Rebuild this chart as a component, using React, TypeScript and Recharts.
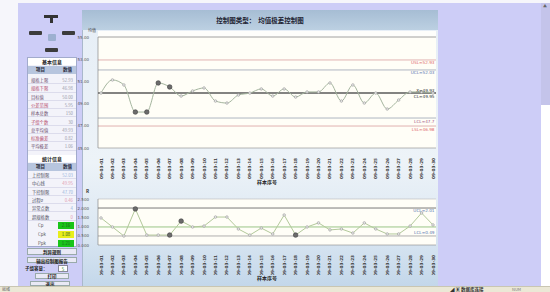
import React from "react";
import { LineChart, Line, XAxis, YAxis, ReferenceLine, CartesianGrid } from "recharts";

const sampleLabels = [
  "09-03-01", "09-03-02", "09-03-03", "09-03-04", "09-03-05", "09-03-06",
  "09-03-07", "09-03-08", "09-03-09", "09-03-10", "09-03-11", "09-03-12",
  "09-03-13", "09-03-14", "09-03-15", "09-03-16", "09-03-17", "09-03-18",
  "09-03-19", "09-03-20", "09-03-21", "09-03-22", "09-03-23", "09-03-24",
  "09-03-25", "09-03-26", "09-03-27", "09-03-28", "09-03-29", "09-03-30",
];

const xbarValues = [
  49.95, 51.13, 50.68, 48.24, 48.24, 50.86, 50.5, 49.68, 50.14, 50.41,
  49.23, 49.05, 49.77, 49.95, 50.32, 49.68, 50.32, 49.59, 50.05, 50.05,
  50.86, 49.23, 50.68, 49.05, 49.95, 48.51, 49.32, 50.05, 50.05, 49.95,
];
const rangeValues = [
  1.47, 0.98, 0.49, 1.96, 0.54, 0.54, 0.54, 1.3, 0.98, 1.03,
  1.52, 1.52, 0.87, 0.54, 0.92, 0.6, 1.63, 0.54, 0.98, 1.2,
  0.82, 0.87, 0.65, 1.2, 0.87, 0.6, 0.6, 1.03, 1.74, 1.09,
];
const xbarAlarms = [3, 4, 5, 6];
const rangeAlarms = [3, 6, 7, 17];

const xbarTicks = [45, 47, 49, 51, 53, 55];
const rangeTicks = [0, 0.5, 1, 1.5, 2, 2.5];

const xbarUSL = 52.93;
const xbarUCL = 52.03;
const xbarCL = 49.95;
const xbarMean = 49.93;
const xbarLCL = 47.7;
const xbarLSL = 46.98;

const rangeUCL = 2.01;
const rangeCL = 0.98;
const rangeLCL = 0.49;

const chartTitle = "控制图类型：  均值极差控制图";
const xbarUnit = "均值";
const rangeUnit = "R";
const xAxisTitle = "样本序号";

const basicItems = ["规格上限", "规格下限", "目标值", "公差范围", "样本总数", "子组个数", "总平均值", "标准偏差", "平均极差"];
const basicValues = ["52.93", "46.98", "50.00", "5.95", "150", "30", "49.93", "0.82", "1.06"];
const statItems = ["上控制限", "中心线", "下控制限", "过程σ", "异常点数", "超规格数"];
const statValues = ["52.03", "49.95", "47.70", "0.46", "4", "0"];
const capItems = ["Cp", "Cpk", "Ppk"];
const capValues = ["2.16", "1.08", "1.21"];
const capColors = ["#19c419", "#e8ee1c", "#19c419"];
const panelButtons = ["判异规则", "输出控制图报告"];

const makeDot = (alarms: number[]) => (props: any) => {
  const { cx, cy, index } = props;
  const alarm = alarms.includes(index);
  return (
    <circle
      key={`d${index}`}
      cx={cx}
      cy={cy}
      r={alarm ? 2.3 : 1.3}
      fill={alarm ? "#6b6b6b" : "#e6e6e6"}
      stroke={alarm ? "#3e3e3e" : "#9c9c9c"}
      strokeWidth={0.6}
    />
  );
};

const VTick = (props: any) => {
  const { x, y, payload } = props;
  return (
    <text
      x={x}
      y={y + 2}
      transform={`rotate(-90 ${x} ${y + 2})`}
      textAnchor="end"
      dy={1.5}
      fontSize={4.2}
      fontWeight="bold"
      fill="#3a3a3a"
      fontFamily="DejaVu Sans"
    >
      {payload.value}
    </text>
  );
};

const YTick = (props: any) => {
  const { x, y, payload, digits } = props;
  return (
    <text x={x - 1} y={y} dy={1.5} textAnchor="end" fontSize={4} fill="#555" fontFamily="DejaVu Sans">
      {Number(payload.value).toFixed(digits)}
    </text>
  );
};

const refLabel = (value: string, fill: string, position: string) => ({
  value,
  position,
  fill,
  fontSize: 4.2,
  offset: 1.5,
  fontFamily: "DejaVu Sans",
});

const xbarData = sampleLabels.map((s, i) => ({ sample: s, v: xbarValues[i] }));
const rangeData = sampleLabels.map((s, i) => ({ sample: s, v: rangeValues[i] }));

const abs = (l: number, t: number, w: number, h: number, extra: any = {}) => ({
  position: "absolute" as const,
  left: l,
  top: t,
  width: w,
  height: h,
  whiteSpace: "nowrap" as const,
  ...extra,
});

const LeftPanel = () => {
  const rowH = 8.3;
  return (
    <>
      {/* navigation pad */}
      <div style={abs(44, 15, 14, 2.5, { background: "#333" })} />
      <div style={abs(50, 17, 2.5, 6, { background: "#333" })} />
      <div style={abs(29, 31, 13, 4, { background: "#3c3c3c", borderRadius: 1 })} />
      <div style={abs(62, 31, 13, 4, { background: "#3c3c3c", borderRadius: 1 })} />
      <div style={abs(48, 34, 8, 7, { background: "#9db0d0", borderRadius: 1 })} />
      <div style={abs(45, 48, 13, 3.5, { background: "#3c3c3c", borderRadius: 1 })} />

      {/* info box */}
      <div style={abs(27, 57, 50, 190, { background: "#f3f3fa", border: "1px solid #a2abcc", boxSizing: "border-box" })} />
      <div style={abs(28, 58, 48, 7, { background: "#ffffff", fontSize: 5, fontWeight: "bold", textAlign: "center", lineHeight: "7px", color: "#222" })}>
        基本信息
      </div>
      <div style={abs(28, 66, 48, 7.5, { background: "#b7c5de", fontSize: 4.5, fontWeight: "bold", lineHeight: "7.5px", color: "#2a2a3a" })}>
        <span style={{ position: "absolute", left: 8 }}>项目</span>
        <span style={{ position: "absolute", left: 35 }}>数值</span>
      </div>
      {basicItems.map((it, i) => (
        <div key={it} style={abs(28, 76 + i * rowH, 48, rowH, { fontSize: 4.3, lineHeight: `${rowH}px`, borderBottom: "0.5px solid #dcdcec", boxSizing: "border-box" })}>
          <span style={{ position: "absolute", left: 3, color: i % 2 ? "#b34a6a" : "#6a4a6a" }}>{it}</span>
          <span style={{ position: "absolute", right: 3, color: "#9a9aaa" }}>{basicValues[i]}</span>
        </div>
      ))}
      <div style={abs(28, 155, 48, 7, { background: "#ffffff", fontSize: 5, fontWeight: "bold", textAlign: "center", lineHeight: "7px", color: "#222" })}>
        统计信息
      </div>
      <div style={abs(28, 163, 48, 7.5, { background: "#b7c5de", fontSize: 4.5, fontWeight: "bold", lineHeight: "7.5px", color: "#2a2a3a" })}>
        <span style={{ position: "absolute", left: 8 }}>项目</span>
        <span style={{ position: "absolute", left: 35 }}>数值</span>
      </div>
      {statItems.map((it, i) => (
        <div key={it} style={abs(28, 171 + i * rowH, 48, rowH, { fontSize: 4.3, lineHeight: `${rowH}px`, borderBottom: "0.5px solid #dcdcec", boxSizing: "border-box" })}>
          <span style={{ position: "absolute", left: 4, color: "#4a4a5a" }}>{it}</span>
          <span style={{ position: "absolute", right: 3, color: i % 2 ? "#e29ab0" : "#9ab4dc" }}>{statValues[i]}</span>
        </div>
      ))}
      {capItems.map((it, i) => (
        <div key={it} style={abs(28, 221 + i * 8.8, 48, 8.8, { fontSize: 4.3, lineHeight: "8.8px" })}>
          <span style={{ position: "absolute", left: 10, color: "#555" }}>{it}</span>
          <span style={{ position: "absolute", left: 30, top: 1, width: 16, height: 7, background: capColors[i], color: "#225522", textAlign: "center", lineHeight: "7px" }}>{capValues[i]}</span>
        </div>
      ))}

      {/* buttons */}
      {panelButtons.map((b, i) => (
        <div key={b} style={abs(27, 248 + i * 8.5, 50, 6.5, { background: "#e9e9f5", border: "0.5px solid #9aa", boxSizing: "border-box", fontSize: 4.5, fontWeight: "bold", textAlign: "center", lineHeight: "6px", color: "#222" })}>
          {b}
        </div>
      ))}
      <div style={abs(25, 265, 30, 7, { fontSize: 4.5, fontWeight: "bold", lineHeight: "7px", color: "#222" })}>子组容量：</div>
      <div style={abs(58, 265, 10, 7, { background: "#fff", border: "0.5px solid #889", boxSizing: "border-box", fontSize: 4.5, lineHeight: "6px", textAlign: "center", color: "#2a8a2a" })}>5</div>
      <div style={abs(35, 273, 34, 6, { background: "#e9e9f5", border: "0.5px solid #9aa", boxSizing: "border-box", fontSize: 4.5, fontWeight: "bold", textAlign: "center", lineHeight: "5.5px", color: "#222" })}>打印</div>
      <div style={abs(30, 280.5, 40, 5.5, { background: "#e9e9f5", border: "0.5px solid #9aa", boxSizing: "border-box", fontSize: 4.5, fontWeight: "bold", textAlign: "center", lineHeight: "5px", color: "#222" })}>退出</div>
    </>
  );
};

export default function App() {
  return (
    <div
      style={{
        position: "fixed",
        left: 0,
        top: 0,
        width: 550,
        height: 292,
        background: "#f6f6fb",
        overflow: "hidden",
        fontFamily: '"Noto Sans CJK SC", "Noto Sans", sans-serif',
      }}
    >
      {/* window background */}
      <div style={abs(18, 3, 532, 284, { background: "#cdcdf7" })} />
      {/* right scrollbar */}
      <div style={abs(541, 3, 9, 102, { background: "#c4c4ea" })} />
      <div style={abs(541, 105, 9, 182, { background: "#ffffff" })} />
      <div style={abs(543, 4, 5, 4, { fontSize: 4, color: "#666", lineHeight: "4px" })}>▲</div>

      <LeftPanel />

      {/* main chart panel */}
      <div
        style={abs(82, 10, 356, 277, {
          background: "linear-gradient(#e6eef6 0%, #edf3f8 55%, #dbe7f2 80%, #c3d7ea 100%)",
          borderLeft: "1px solid #a9b8cc",
          boxSizing: "border-box",
        })}
      />
      <div
        style={abs(82, 10, 356, 20, {
          background: "linear-gradient(#a6bdd4, #bcd0e2)",
          fontSize: 6.5,
          fontWeight: "bold",
          color: "#1e2433",
          lineHeight: "20px",
          textAlign: "center",
          boxSizing: "border-box",
          whiteSpace: "pre",
        })}
      >
        {chartTitle}
      </div>
      <div style={abs(98, 31, 338, 6, { background: "#fefefb" })} />
      <div style={abs(88, 27, 12, 6, { fontSize: 4, color: "#444", lineHeight: "6px" })}>{xbarUnit}</div>
      <div style={abs(86, 188, 8, 6, { fontSize: 4.5, color: "#333", lineHeight: "6px", fontWeight: "bold" })}>{rangeUnit}</div>
      <div style={abs(247, 178, 40, 7, { fontSize: 5, fontWeight: "bold", color: "#222", lineHeight: "7px", textAlign: "center" })}>{xAxisTitle}</div>
      <div style={abs(247, 274, 40, 7, { fontSize: 5, fontWeight: "bold", color: "#222", lineHeight: "7px", textAlign: "center" })}>{xAxisTitle}</div>

      {/* X-bar chart */}
      <div style={abs(76, 30, 362, 150)}>
        <LineChart width={362} height={150} data={xbarData} margin={{ top: 7, right: 2, bottom: 0, left: 0 }}>
          <CartesianGrid horizontal={false} vertical={false} fill="#fffef7" stroke="none" />
          <XAxis
            dataKey="sample"
            interval={0}
            height={32}
            tick={<VTick />}
            tickLine={false}
            axisLine={{ stroke: "#888", strokeWidth: 0.6 }}
            padding={{ left: 3, right: 3 }}
          />
          <YAxis
            domain={[45, 55]}
            ticks={xbarTicks}
            interval={0}
            width={22}
            tick={<YTick digits={2} />}
            tickLine={false}
            axisLine={{ stroke: "#777", strokeWidth: 0.6 }}
          />
          <ReferenceLine y={55} stroke="#8c8c8c" strokeWidth={0.8} />
          <ReferenceLine y={xbarUSL} stroke="#d9a0a0" strokeWidth={0.8} label={refLabel(`USL=${xbarUSL}`, "#e06a6a", "insideTopRight")} />
          <ReferenceLine y={xbarUCL} stroke="#9aa4b4" strokeWidth={0.8} label={refLabel(`UCL=${xbarUCL}`, "#5a74b0", "insideTopRight")} />
          <ReferenceLine y={xbarCL} stroke="#5a5a5a" strokeWidth={1.6} label={refLabel(`CL=${xbarCL}`, "#333", "insideTopRight")} />
          <ReferenceLine y={xbarCL} stroke="none" label={refLabel(`X=${xbarMean}`, "#333", "insideBottomRight")} />
          <ReferenceLine y={xbarLCL} stroke="#9aa4b4" strokeWidth={0.8} label={refLabel(`LCL=${xbarLCL}`, "#a65a88", "insideTopRight")} />
          <ReferenceLine y={xbarLSL} stroke="#d9a0a0" strokeWidth={0.8} label={refLabel(`LSL=${xbarLSL}`, "#e06a6a", "insideTopRight")} />
          <Line
            type="monotone"
            dataKey="v"
            stroke="#a4b59e"
            strokeWidth={1}
            dot={makeDot(xbarAlarms)}
            isAnimationActive={false}
          />
        </LineChart>
      </div>

      {/* Range chart */}
      <div style={abs(76, 192, 362, 83)}>
        <LineChart width={362} height={83} data={rangeData} margin={{ top: 7, right: 2, bottom: 0, left: 0 }}>
          <CartesianGrid horizontal={false} vertical={false} fill="#fffef7" stroke="none" />
          <XAxis
            dataKey="sample"
            interval={0}
            height={30}
            tick={<VTick />}
            tickLine={false}
            axisLine={{ stroke: "#888", strokeWidth: 0.6 }}
            padding={{ left: 3, right: 3 }}
          />
          <YAxis
            domain={[0, 2.5]}
            ticks={rangeTicks}
            interval={0}
            width={22}
            tick={<YTick digits={3} />}
            tickLine={false}
            axisLine={{ stroke: "#777", strokeWidth: 0.6 }}
          />
          <ReferenceLine y={2.5} stroke="#b8b8b8" strokeWidth={0.6} />
          <ReferenceLine y={rangeUCL} stroke="#6a6a6a" strokeWidth={0.9} label={refLabel(`UCL=${rangeUCL}`, "#5a74b0", "insideTopRight")} />
          <ReferenceLine y={rangeCL} stroke="#8fbf7a" strokeWidth={0.9} />
          <ReferenceLine y={rangeLCL} stroke="#9a9a9a" strokeWidth={0.8} label={refLabel(`LCL=${rangeLCL}`, "#5a74b0", "insideBottomRight")} />
          <Line
            type="linear"
            dataKey="v"
            stroke="#b3c99b"
            strokeWidth={1}
            dot={makeDot(rangeAlarms)}
            isAnimationActive={false}
          />
        </LineChart>
      </div>

      {/* status bar */}
      <div style={abs(0, 286, 550, 6, { background: "#ebe8d6", borderTop: "0.5px solid #c9c6b2", boxSizing: "border-box" })} />
      <div style={abs(2, 286, 20, 6, { fontSize: 4, color: "#666", lineHeight: "6px" })}>就绪</div>
      <div style={abs(450, 286, 60, 6, { fontSize: 4.5, color: "#333", lineHeight: "6px", fontWeight: "bold" })}>◢ ▣ 数据库连接</div>
      <div style={abs(512, 286, 30, 6, { fontSize: 4, color: "#777", lineHeight: "6px" })}>NUM</div>
    </div>
  );
}
